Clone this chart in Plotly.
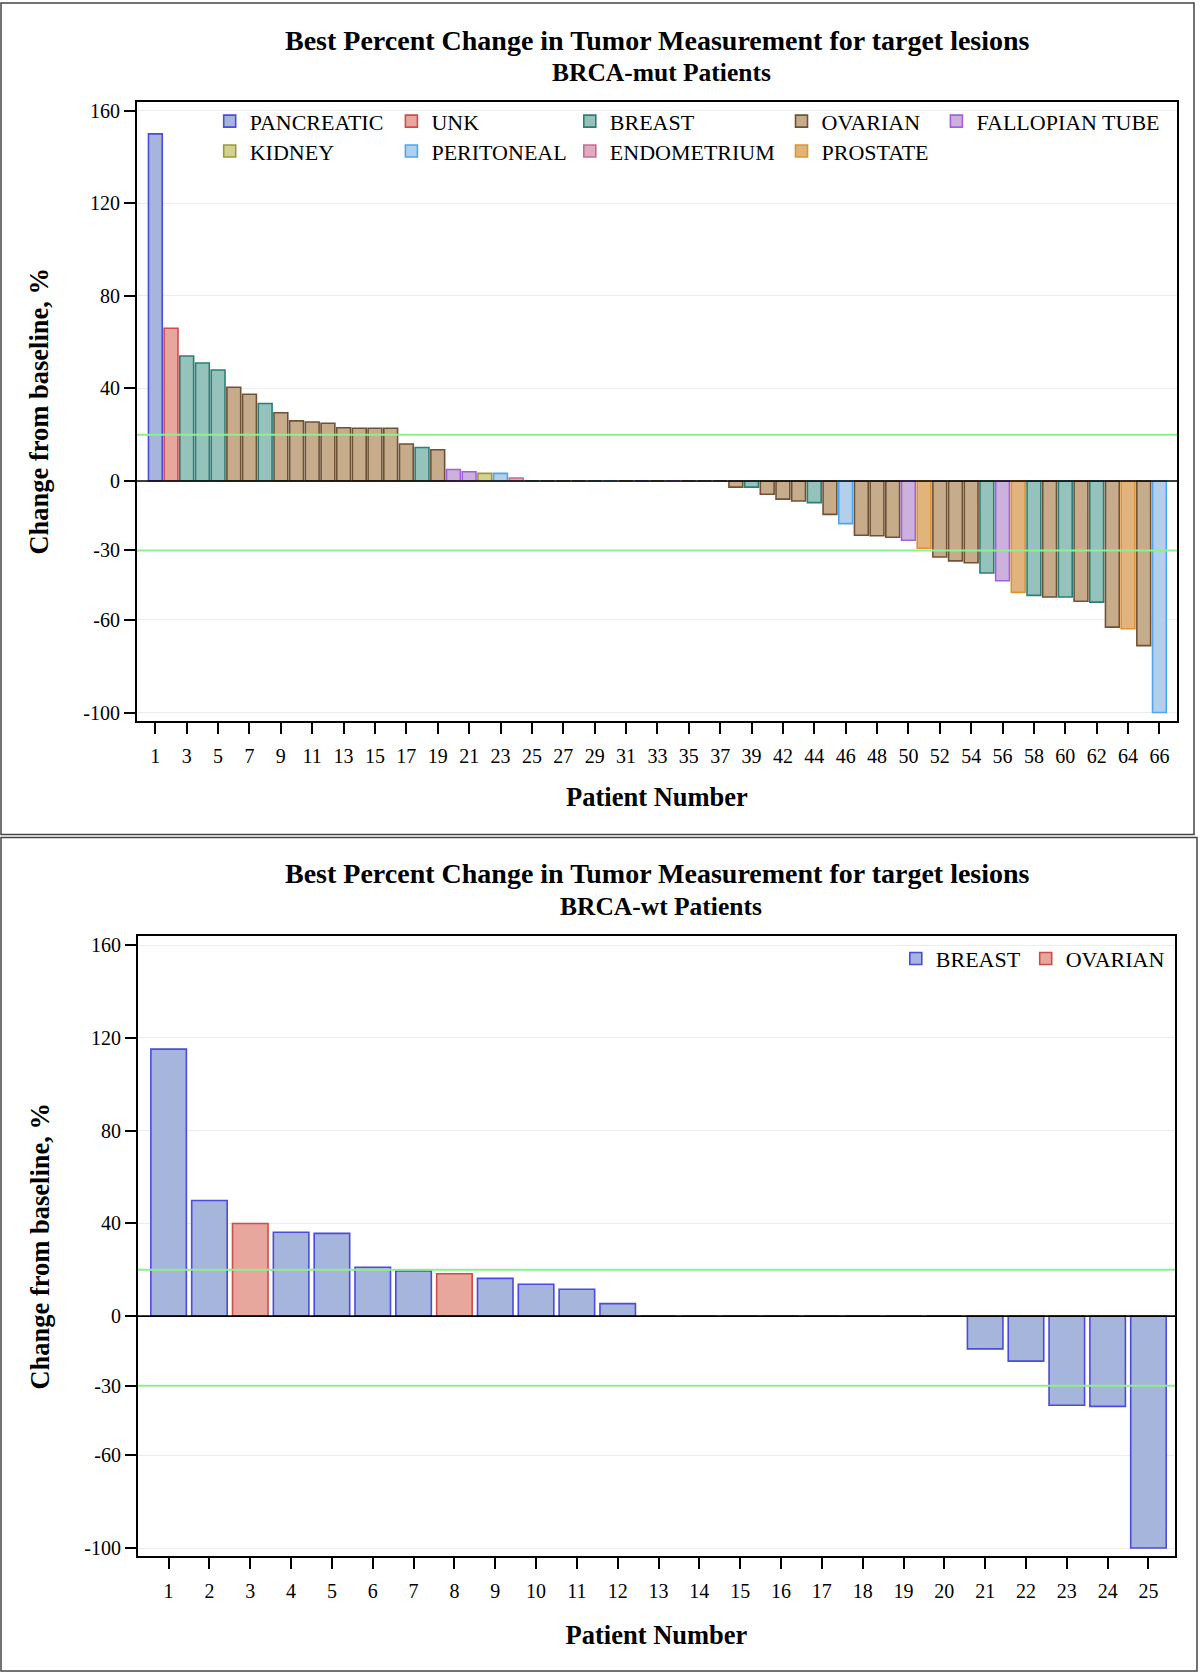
import plotly.graph_objects as go

# ---------------- data ----------------
top_patients = ["1", "2", "3", "4", "5", "6", "7", "8", "9", "10", "11", "12", "13", "14", "15",
                "16", "17", "18", "19", "20", "21", "22", "23", "24", "25", "26", "27", "28", "29",
                "30", "31", "32", "33", "34", "35", "36", "37", "38", "39", "40", "42", "43", "44",
                "45", "46", "47", "48", "49", "50", "51", "52", "53", "54", "55", "56", "57", "58",
                "59", "60", "61", "62", "63", "64", "65", "66"]
top_values = [150, 66, 54, 51, 48, 40.5, 37.5, 33.5, 29.5, 26, 25.5, 25, 23, 22.8, 22.8, 22.8,
              16, 14.5, 13.5, 5, 4, 3.3, 3.3, 1.3,
              0, 0, 0, 0, 0, 0, 0, 0, 0, 0, 0, 0, 0,
              -2.6, -2.6, -5.7, -7.8, -8.6, -9.3, -14.4, -18.4, -23.4, -23.6, -24.3, -25.6,
              -29.0, -32.8, -34.5, -35.3, -39.7, -43.1, -48.1, -49.4, -50.1, -50.1, -51.9,
              -52.3, -63.1, -63.8, -71.1, -100]
top_types = ["PANCREATIC", "UNK", "BREAST", "BREAST", "BREAST", "OVARIAN", "OVARIAN", "BREAST",
             "OVARIAN", "OVARIAN", "OVARIAN", "OVARIAN", "OVARIAN", "OVARIAN", "OVARIAN", "OVARIAN",
             "OVARIAN", "BREAST", "OVARIAN", "FALLOPIAN TUBE", "FALLOPIAN TUBE", "KIDNEY",
             "PERITONEAL", "ENDOMETRIUM",
             "BREAST", "OVARIAN", "OVARIAN", "OVARIAN", "BREAST", "PERITONEAL", "OVARIAN",
             "PANCREATIC", "OVARIAN", "FALLOPIAN TUBE", "OVARIAN", "OVARIAN", "OVARIAN",
             "OVARIAN", "BREAST", "OVARIAN", "OVARIAN", "OVARIAN", "BREAST", "OVARIAN",
             "PERITONEAL", "OVARIAN", "OVARIAN", "OVARIAN", "FALLOPIAN TUBE", "PROSTATE",
             "OVARIAN", "OVARIAN", "OVARIAN", "BREAST", "FALLOPIAN TUBE", "PROSTATE", "BREAST",
             "OVARIAN", "BREAST", "OVARIAN", "BREAST", "OVARIAN", "PROSTATE", "OVARIAN",
             "PERITONEAL"]
top_tick_labels = ["1", "3", "5", "7", "9", "11", "13", "15", "17", "19", "21", "23", "25", "27",
                   "29", "31", "33", "35", "37", "39", "42", "44", "46", "48", "50", "52", "54",
                   "56", "58", "60", "62", "64", "66"]
top_legend_rows = [["PANCREATIC", "UNK", "BREAST", "OVARIAN", "FALLOPIAN TUBE"],
                   ["KIDNEY", "PERITONEAL", "ENDOMETRIUM", "PROSTATE"]]

bottom_patients = ["1", "2", "3", "4", "5", "6", "7", "8", "9", "10", "11", "12", "13", "14",
                   "15", "16", "17", "18", "19", "20", "21", "22", "23", "24", "25"]
bottom_values = [115.2, 49.9, 40.0, 36.2, 35.7, 21.1, 19.5, 18.3, 16.3, 13.8, 11.6, 5.4,
                 0, 0, 0, 0, 0, 0, 0, 0, -14.1, -19.4, -38.4, -38.9, -100]
bottom_types = ["BREAST", "BREAST", "OVARIAN", "BREAST", "BREAST", "BREAST", "BREAST", "OVARIAN",
                "BREAST", "BREAST", "BREAST", "BREAST", "BREAST", "BREAST", "BREAST", "BREAST",
                "BREAST", "BREAST", "OVARIAN", "BREAST", "BREAST", "BREAST", "BREAST", "BREAST",
                "BREAST"]
bottom_order = ["BREAST", "OVARIAN"]

y_tick_vals = [160, 120, 80, 40, 0, -30, -60, -100]
y_tick_text = ["160", "120", "80", "40", "0", "-30", "-60", "-100"]
ref_lines = [20, -30]

# ---------------- styles ----------------
top_colors = {
    "PANCREATIC": ("#a6b5db", "#4b4bdc"),
    "UNK": ("#e8a79c", "#d24b4b"),
    "BREAST": ("#96c2bc", "#2b7f77"),
    "OVARIAN": ("#c6ac8b", "#6e5236"),
    "FALLOPIAN TUBE": ("#cdb1dd", "#a55ee0"),
    "KIDNEY": ("#d4d291", "#9a9a3c"),
    "PERITONEAL": ("#b3cfe9", "#4ba7f2"),
    "ENDOMETRIUM": ("#ddacc3", "#c66b97"),
    "PROSTATE": ("#e2b47d", "#e0922e"),
}
bottom_colors = {
    "BREAST": ("#a6b5db", "#4b4bdc"),
    "OVARIAN": ("#e8a79c", "#d24b4b"),
}

SERIF = "Liberation Serif, Times New Roman, serif"
W, H = 1200, 1675


def px(v):
    return v / W


def py(v):
    return 1 - v / H


fig = go.Figure()

legend_font = dict(family=SERIF, size=22, color="black")
legend_common = dict(font=legend_font, bgcolor="rgba(0,0,0,0)", xanchor="left",
                     yanchor="middle", itemclick=False, itemdoubleclick=False, visible=True)
legend_col_x = [229.7, 411.4, 589.8, 801.5, 956.4]
legend_row_y = [119.7, 149.6]

layout = dict(
    width=W, height=H, margin=dict(l=0, r=0, t=0, b=0), showlegend=True,
    paper_bgcolor="white", plot_bgcolor="white", barmode="overlay",
)

# top chart traces: every legend entry is its own small legend placed in the grid
n = 0
for ri, row in enumerate(top_legend_rows):
    for ci, t in enumerate(row):
        n += 1
        lname = "legend" if n == 1 else f"legend{n}"
        layout[lname] = dict(x=px(legend_col_x[ci] - 20), y=py(legend_row_y[ri]),
                             orientation="v", **legend_common)
        xs = [p for p, tt in zip(top_patients, top_types) if tt == t]
        ys = [v for v, tt in zip(top_values, top_types) if tt == t]
        fill, line = top_colors[t]
        fig.add_trace(go.Bar(
            x=xs, y=ys, name=t, xaxis="x", yaxis="y", showlegend=True,
            marker=dict(color=fill, line=dict(color=line, width=1.6)),
            width=0.88, legend=lname,
        ))

bot_legend = f"legend{n + 1}"
layout[bot_legend] = dict(x=px(915.8 - 20), y=py(959.6), orientation="h", **legend_common)
for t in bottom_order:
    xs = [p for p, tt in zip(bottom_patients, bottom_types) if tt == t]
    ys = [v for v, tt in zip(bottom_values, bottom_types) if tt == t]
    fill, line = bottom_colors[t]
    fig.add_trace(go.Bar(
        x=xs, y=ys, name=t, xaxis="x2", yaxis="y2", showlegend=True,
        marker=dict(color=fill, line=dict(color=line, width=1.6)),
        width=0.87, legend=bot_legend,
    ))

tick_font = dict(family=SERIF, size=20, color="black")
title_font = dict(family=SERIF, size=26.5, color="black", weight="bold")
ytitle_font = dict(family=SERIF, size=26.5, color="black", weight="bold")

common_x = dict(type="category", categoryorder="array", ticks="outside", ticklen=11,
                tickwidth=1.5, tickcolor="black", showline=True, linecolor="black",
                linewidth=2, mirror=True, showgrid=False, zeroline=False,
                tickfont=tick_font, ticklabelstandoff=5)
common_y = dict(range=[-103.6, 163.9], tickvals=y_tick_vals, ticktext=y_tick_text,
                ticks="outside", ticklen=11, tickwidth=1.5, tickcolor="black",
                showline=True, linecolor="black", linewidth=2, mirror=True,
                showgrid=True, gridcolor="#ececec", gridwidth=1, zeroline=False,
                tickfont=tick_font, ticklabelstandoff=0)

layout.update(
    xaxis=dict(domain=[px(137), px(1177)], anchor="y", categoryarray=top_patients,
               range=[-1.17, 65.12], tickvals=top_tick_labels,
               title=dict(text="Patient Number", font=title_font, standoff=22), **common_x),
    yaxis=dict(domain=[py(721), py(100)], anchor="x",
               title=dict(text="Change from baseline, %", font=ytitle_font, standoff=27),
               **common_y),
    xaxis2=dict(domain=[px(138), px(1175)], anchor="y2", categoryarray=bottom_patients,
                range=[-0.75, 24.65], tickvals=bottom_patients,
                title=dict(text="Patient Number", font=title_font, standoff=24), **common_x),
    yaxis2=dict(domain=[py(1559), py(937)], anchor="x2",
                title=dict(text="Change from baseline, %", font=ytitle_font, standoff=27),
                **common_y),
)
fig.update_layout(**layout)

# reference lines and zero line
shapes = []
for xa, ya in [("x", "y"), ("x2", "y2")]:
    for v in ref_lines:
        shapes.append(dict(type="line", xref=f"{xa} domain", yref=ya, x0=0, x1=1, y0=v, y1=v,
                           line=dict(color="#90ee90", width=2), layer="above"))
    shapes.append(dict(type="line", xref=f"{xa} domain", yref=ya, x0=0, x1=1, y0=0, y1=0,
                       line=dict(color="black", width=1.6), layer="above"))
# panel frames
shapes.append(dict(type="rect", xref="paper", yref="paper", x0=px(1), x1=px(1194),
                   y0=py(835), y1=py(1), line=dict(color="#444444", width=1.5)))
shapes.append(dict(type="rect", xref="paper", yref="paper", x0=px(1), x1=px(1197),
                   y0=py(1674), y1=py(838), line=dict(color="#444444", width=1.5)))
fig.update_layout(shapes=shapes)

# titles
annos = []
for title_y, sub_y, sub in [(38.5, 70.5, "BRCA-mut Patients"), (874, 907, "BRCA-wt Patients")]:
    annos.append(dict(text="Best Percent Change in Tumor Measurement for target lesions",
                      xref="paper", yref="paper", x=px(657), y=py(title_y), showarrow=False,
                      xanchor="center", yanchor="middle",
                      font=dict(family=SERIF, size=28, color="black", weight="bold")))
    annos.append(dict(text=sub, xref="paper", yref="paper", x=px(661), y=py(sub_y),
                      showarrow=False, xanchor="center", yanchor="middle",
                      font=dict(family=SERIF, size=25.5, color="black", weight="bold")))
fig.update_layout(annotations=annos)

fig.write_html("out.html", config={"displayModeBar": False},
               post_script="document.body.style.margin='0';document.body.style.overflow='hidden';")
